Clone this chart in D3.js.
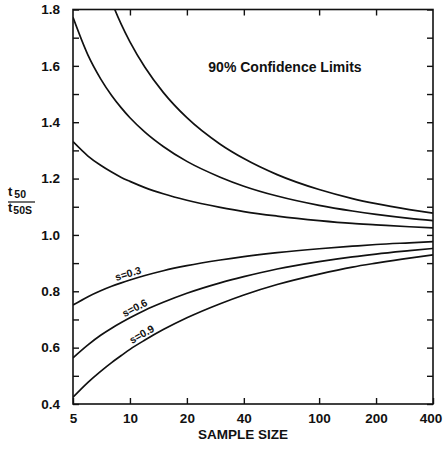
<!DOCTYPE html>
<html>
<head>
<meta charset="utf-8">
<script src="https://cdn.jsdelivr.net/npm/d3@7"></script>
<style>
  body { margin: 0; background: #fff; }
  svg { display: block; font-family: "Liberation Sans", Arial, sans-serif; }
</style>
</head>
<body>
<div id="chart"></div>
<script>
// Data: ratio t50 / t50S at each sample size
var sampleSizes = [5, 6, 7, 8, 9, 10, 12, 15, 20, 30, 40, 60, 100, 150, 200, 300, 400];

var upper03 = [1.331, 1.280, 1.247, 1.223, 1.204, 1.190, 1.168, 1.146, 1.123, 1.098, 1.083, 1.067, 1.051, 1.041, 1.036, 1.029, 1.025];
var upper06 = [1.772, 1.638, 1.554, 1.495, 1.451, 1.416, 1.365, 1.314, 1.261, 1.205, 1.173, 1.138, 1.105, 1.085, 1.073, 1.059, 1.051];
var upper09 = [2.359, 2.097, 1.937, 1.828, 1.747, 1.685, 1.595, 1.506, 1.416, 1.322, 1.271, 1.214, 1.161, 1.129, 1.111, 1.090, 1.077];
var lower03 = [0.751, 0.781, 0.802, 0.818, 0.830, 0.840, 0.856, 0.873, 0.891, 0.911, 0.923, 0.937, 0.951, 0.960, 0.966, 0.972, 0.976];
var lower06 = [0.564, 0.610, 0.644, 0.669, 0.689, 0.706, 0.733, 0.761, 0.793, 0.830, 0.852, 0.879, 0.905, 0.922, 0.932, 0.944, 0.952];
var lower09 = [0.424, 0.477, 0.516, 0.547, 0.572, 0.594, 0.627, 0.664, 0.706, 0.756, 0.787, 0.824, 0.861, 0.886, 0.900, 0.918, 0.929];

var seriesList = [upper03, upper06, upper09, lower03, lower06, lower09];

var xTickValues = [5, 10, 20, 40, 100, 200, 400];
var yTickValues = [0.4, 0.6, 0.8, 1.0, 1.2, 1.4, 1.6, 1.8];
var yMinorTicks = [0.5, 0.7, 0.9, 1.1, 1.3, 1.5, 1.7];

var curveLabels = ["s=0.3", "s=0.6", "s=0.9"];
var labelAt = [10, 11, 12]; // sample size at the middle of each label (on lower curves)

var svgWidth = 443;
var svgHeight = 450;

var margin = { top: 9.5, right: 10, bottom: 46, left: 73 };
var chartWidth = svgWidth - margin.left - margin.right;
var chartHeight = svgHeight - margin.top - margin.bottom;

var svg = d3.select("#chart")
  .append("svg")
  .attr("width", svgWidth)
  .attr("height", svgHeight);

var chartGroup = svg.append("g")
  .attr("transform", `translate(${margin.left}, ${margin.top})`);

var xScale = d3.scaleLog()
  .domain([5, 400])
  .range([0, chartWidth]);

var yScale = d3.scaleLinear()
  .domain([0.4, 1.8])
  .range([chartHeight, 0]);

// clip the curves to the frame
svg.append("defs").append("clipPath")
  .attr("id", "plotClip")
  .append("rect")
  .attr("width", chartWidth)
  .attr("height", chartHeight);

// axes: ticks point inward on all four sides
var tickLen = 6;
var allY = yTickValues.concat(yMinorTicks);

var bottomAxis = d3.axisBottom(xScale).tickValues(xTickValues)
  .tickSizeInner(-tickLen).tickSizeOuter(0).tickPadding(9)
  .tickFormat(d3.format("d"));
var topAxis = d3.axisTop(xScale).tickValues(xTickValues.slice(1, -1))
  .tickSizeInner(-tickLen).tickSizeOuter(0).tickFormat("");
var leftAxis = d3.axisLeft(yScale).tickValues(allY)
  .tickSizeInner(-tickLen).tickSizeOuter(0).tickPadding(13)
  .tickFormat(d => yTickValues.some(v => Math.abs(v - d) < 1e-9) ? d3.format(".1f")(d) : "");
var rightAxis = d3.axisRight(yScale).tickValues(allY)
  .tickSizeInner(-tickLen).tickSizeOuter(0).tickFormat("");

var axisGroups = [
  chartGroup.append("g").attr("transform", `translate(0, ${chartHeight})`).call(bottomAxis),
  chartGroup.append("g").call(topAxis),
  chartGroup.append("g").call(leftAxis),
  chartGroup.append("g").attr("transform", `translate(${chartWidth}, 0)`).call(rightAxis)
];

axisGroups.forEach(function(g) {
  g.select(".domain").remove();
  g.selectAll(".tick line").attr("stroke", "#111").attr("stroke-width", 1.4);
  g.selectAll(".tick text")
    .attr("fill", "#111")
    .attr("font-size", "13.5px")
    .style("font-weight", "bold");
});

// keep "400" inside the page edge
axisGroups[0].selectAll(".tick text").filter(d => d === 400).attr("dx", -2.5);

// frame
chartGroup.append("rect")
  .attr("width", chartWidth)
  .attr("height", chartHeight)
  .attr("fill", "none")
  .attr("stroke", "#111")
  .attr("stroke-width", 1.6);

// curves
var line = d3.line()
  .x((d, i) => xScale(sampleSizes[i]))
  .y(d => yScale(d))
  .curve(d3.curveMonotoneX);

chartGroup.append("g")
  .attr("clip-path", "url(#plotClip)")
  .selectAll("path")
  .data(seriesList)
  .enter()
  .append("path")
  .attr("d", d => line(d))
  .attr("fill", "none")
  .attr("stroke", "#111")
  .attr("stroke-width", 1.7);

// curve labels, rotated along the lower curves
var lowerSeries = [lower03, lower06, lower09];
function pointOn(s, n) {
  // position on the polyline through the data (pixel space) at sample size n
  var j = d3.bisectRight(sampleSizes, n) - 1;
  j = Math.max(0, Math.min(sampleSizes.length - 2, j));
  var xa = xScale(sampleSizes[j]), xb = xScale(sampleSizes[j + 1]);
  var ya = yScale(s[j]), yb = yScale(s[j + 1]);
  var t = (xScale(n) - xa) / (xb - xa);
  return { x: xScale(n), y: ya + t * (yb - ya), ang: Math.atan2(yb - ya, xb - xa) * 180 / Math.PI };
}

chartGroup.append("g")
  .selectAll("text")
  .data(curveLabels)
  .enter()
  .append("text")
  .attr("transform", function(d, i) {
    var p = pointOn(lowerSeries[i], labelAt[i]);
    return `translate(${p.x}, ${p.y}) rotate(${p.ang}) translate(0, -3)`;
  })
  .attr("text-anchor", "middle")
  .attr("font-size", "10.5px")
  .attr("fill", "#111")
  .style("font-weight", "bold")
  .text(d => d);

// inner title
chartGroup.append("text")
  .attr("x", xScale(66))
  .attr("y", 62)
  .attr("text-anchor", "middle")
  .attr("font-size", "14px")
  .attr("fill", "#111")
  .style("font-weight", "bold")
  .text("90% Confidence Limits");

// x axis title
svg.append("text")
  .attr("x", 243)
  .attr("y", 439)
  .attr("text-anchor", "middle")
  .attr("font-size", "13.5px")
  .attr("fill", "#111")
  .style("font-weight", "bold")
  .text("SAMPLE SIZE");

// y axis title: t50 over t50S
var yTitle = svg.append("g").attr("fill", "#111").style("font-weight", "bold");
var num = yTitle.append("text").attr("x", 8).attr("y", 196).attr("font-size", "13px");
num.append("tspan").text("t");
num.append("tspan").attr("font-size", "10.5px").attr("dx", 2).attr("dy", 2).text("50");
yTitle.append("line")
  .attr("x1", 8).attr("x2", 35)
  .attr("y1", 202).attr("y2", 202)
  .attr("stroke", "#111").attr("stroke-width", 1.2);
var den = yTitle.append("text").attr("x", 8).attr("y", 212).attr("font-size", "13px");
den.append("tspan").text("t");
den.append("tspan").attr("font-size", "10.5px").attr("dx", 1).attr("dy", 2).text("50S");
</script>
</body>
</html>
